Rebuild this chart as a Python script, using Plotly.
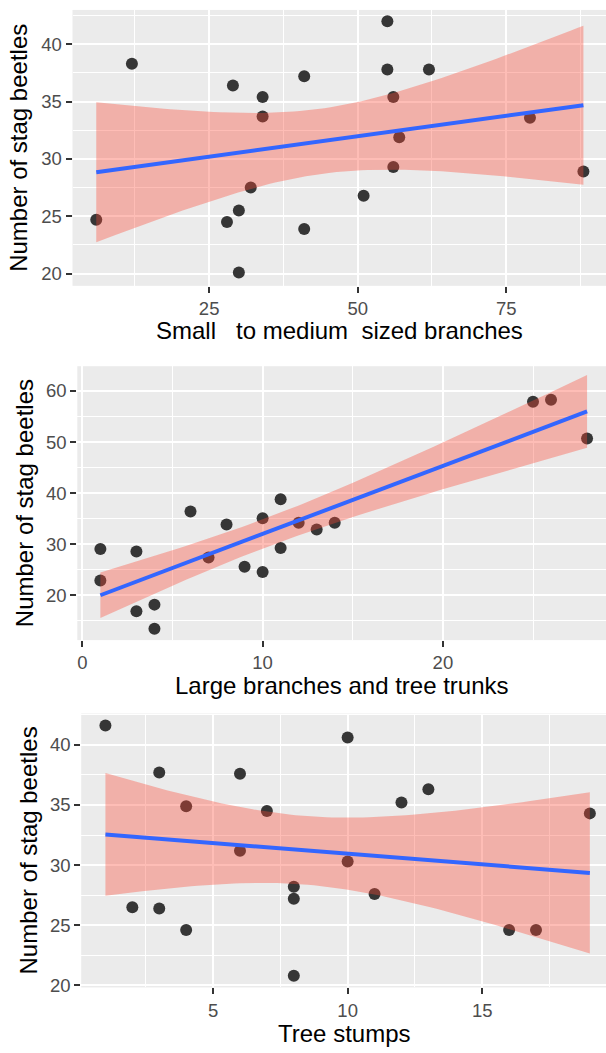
import numpy as np
import plotly.graph_objects as go

# ---- data ----
small_x = [6, 12, 29, 28, 30, 30, 32, 34, 34, 41, 41, 51, 55, 55, 56, 56, 57, 62, 79, 88]
small_y = [24.7, 38.3, 36.4, 24.5, 25.5, 20.1, 27.5, 35.4, 33.7, 37.2, 23.9, 26.8, 42.0, 37.8,
           35.4, 29.3, 31.9, 37.8, 33.6, 28.9]
large_x = [1, 1, 3, 3, 4, 4, 6, 7, 8, 9, 10, 10, 11, 11, 12, 13, 14, 25, 26, 28]
large_y = [29.1, 22.9, 28.6, 16.9, 18.2, 13.5, 36.4, 27.4, 33.9, 25.6, 35.1, 24.6, 38.8, 29.3,
           34.2, 32.9, 34.2, 57.9, 58.3, 50.7]
stump_x = [1, 2, 3, 3, 4, 4, 6, 6, 7, 8, 8, 8, 10, 10, 11, 12, 13, 16, 17, 19]
stump_y = [41.6, 26.5, 37.7, 26.4, 34.9, 24.6, 37.6, 31.2, 34.5, 28.2, 27.2, 20.8, 40.6, 30.3,
           27.6, 35.2, 36.3, 24.6, 24.6, 34.3]

x_titles = ["Small\u00a0\u00a0\u00a0to medium\u00a0\u00a0sized branches",
            "Large branches and tree trunks",
            "Tree stumps"]
y_title = "Number of stag beetles"

x_ticks = [[25, 50, 75], [0, 10, 20], [5, 10, 15]]
x_minor = [[12.5, 37.5, 62.5, 87.5], [5, 15, 25], [2.5, 7.5, 12.5, 17.5]]
y_ticks = [[20, 25, 30, 35, 40], [20, 30, 40, 50, 60], [20, 25, 30, 35, 40]]
y_minor = [[22.5, 27.5, 32.5, 37.5, 42.5], [15, 25, 35, 45, 55, 65], [22.5, 27.5, 32.5, 37.5, 42.5]]

T_975_DF18 = 2.100922  # Student t quantile used by lm confidence band


def lm_band(x, y, n_pts=80):
    x = np.asarray(x, float)
    y = np.asarray(y, float)
    n = len(x)
    b, a = np.polyfit(x, y, 1)
    resid = y - (a + b * x)
    s = np.sqrt(np.sum(resid ** 2) / (n - 2))
    sxx = np.sum((x - x.mean()) ** 2)
    xs = np.linspace(x.min(), x.max(), n_pts)
    fit = a + b * xs
    se = s * np.sqrt(1.0 / n + (xs - x.mean()) ** 2 / sxx)
    return xs, fit, fit - T_975_DF18 * se, fit + T_975_DF18 * se


# ---- layout geometry (pixels) ----
W, H = 606, 1053
panels = [
    dict(left=72.5, top=10, bottom=288, xr=[2.0, 91.8], yr=[18.94, 42.99], xt_y=333, yt_x=19),
    dict(left=77.3, top=369, bottom=645, xr=[-0.28, 29.05], yr=[11.26, 64.85], xt_y=691, yt_x=24),
    dict(left=81.2, top=719, bottom=995, xr=[0.1, 19.6], yr=[19.83, 42.6], xt_y=1041, yt_x=28),
]
datasets = [(small_x, small_y), (large_x, large_y), (stump_x, stump_y)]

FONT = "Liberation Sans, Arial, sans-serif"
fig = go.Figure()
annotations = []
layout = dict(
    width=W, height=H, margin=dict(l=0, r=0, t=0, b=0),
    paper_bgcolor="white", plot_bgcolor="#EBEBEB", showlegend=False,
    font=dict(family=FONT),
)

for i, (p, (dx, dy)) in enumerate(zip(panels, datasets)):
    k = "" if i == 0 else str(i + 1)
    xa, ya = "x" + k, "y" + k
    fig.add_trace(go.Scatter(x=dx, y=dy, mode="markers", xaxis=xa, yaxis=ya,
                             marker=dict(color="#363636", size=12, line=dict(width=0)),
                             hoverinfo="skip"))
    xs, fit, lo, hi = lm_band(dx, dy)
    fig.add_trace(go.Scatter(x=np.concatenate([xs, xs[::-1]]), y=np.concatenate([hi, lo[::-1]]),
                             mode="lines", fill="toself", fillcolor="rgba(252,72,52,0.36)",
                             line=dict(width=0), xaxis=xa, yaxis=ya, hoverinfo="skip"))
    fig.add_trace(go.Scatter(x=xs, y=fit, mode="lines", line=dict(color="#3366FF", width=4),
                             xaxis=xa, yaxis=ya, hoverinfo="skip"))

    common = dict(showline=False, zeroline=False, showgrid=True, gridcolor="white", gridwidth=1.6,
                  ticks="outside", ticklen=6, tickwidth=2, tickcolor="#333333",
                  tickfont=dict(size=18.5, color="#4D4D4D", family=FONT))
    layout["xaxis" + k] = dict(common, domain=[p["left"] / W, 1], range=p["xr"],
                               anchor=ya, tickmode="array", tickvals=x_ticks[i],
                               minor=dict(tickmode="array", tickvals=x_minor[i], showgrid=True,
                                          gridcolor="white", gridwidth=0.8, ticks=""))
    layout["yaxis" + k] = dict(common, domain=[1 - p["bottom"] / H, 1 - p["top"] / H], range=p["yr"],
                               anchor=xa, tickmode="array", tickvals=y_ticks[i],
                               minor=dict(tickmode="array", tickvals=y_minor[i], showgrid=True,
                                          gridcolor="white", gridwidth=0.8, ticks=""))
    annotations.append(dict(text=x_titles[i], xref="paper", yref="paper",
                            x=(p["left"] + W) / 2 / W, y=1 - p["xt_y"] / H,
                            xanchor="center", yanchor="middle", showarrow=False,
                            font=dict(size=24, color="black", family=FONT)))
    annotations.append(dict(text=y_title, xref="paper", yref="paper",
                            x=p["yt_x"] / W, y=1 - (p["top"] + p["bottom"]) / 2 / H,
                            xanchor="center", yanchor="middle", textangle=-90, showarrow=False,
                            font=dict(size=24, color="black", family=FONT)))

layout["annotations"] = annotations
fig.update_layout(**layout)
fig.write_html("out.html")
